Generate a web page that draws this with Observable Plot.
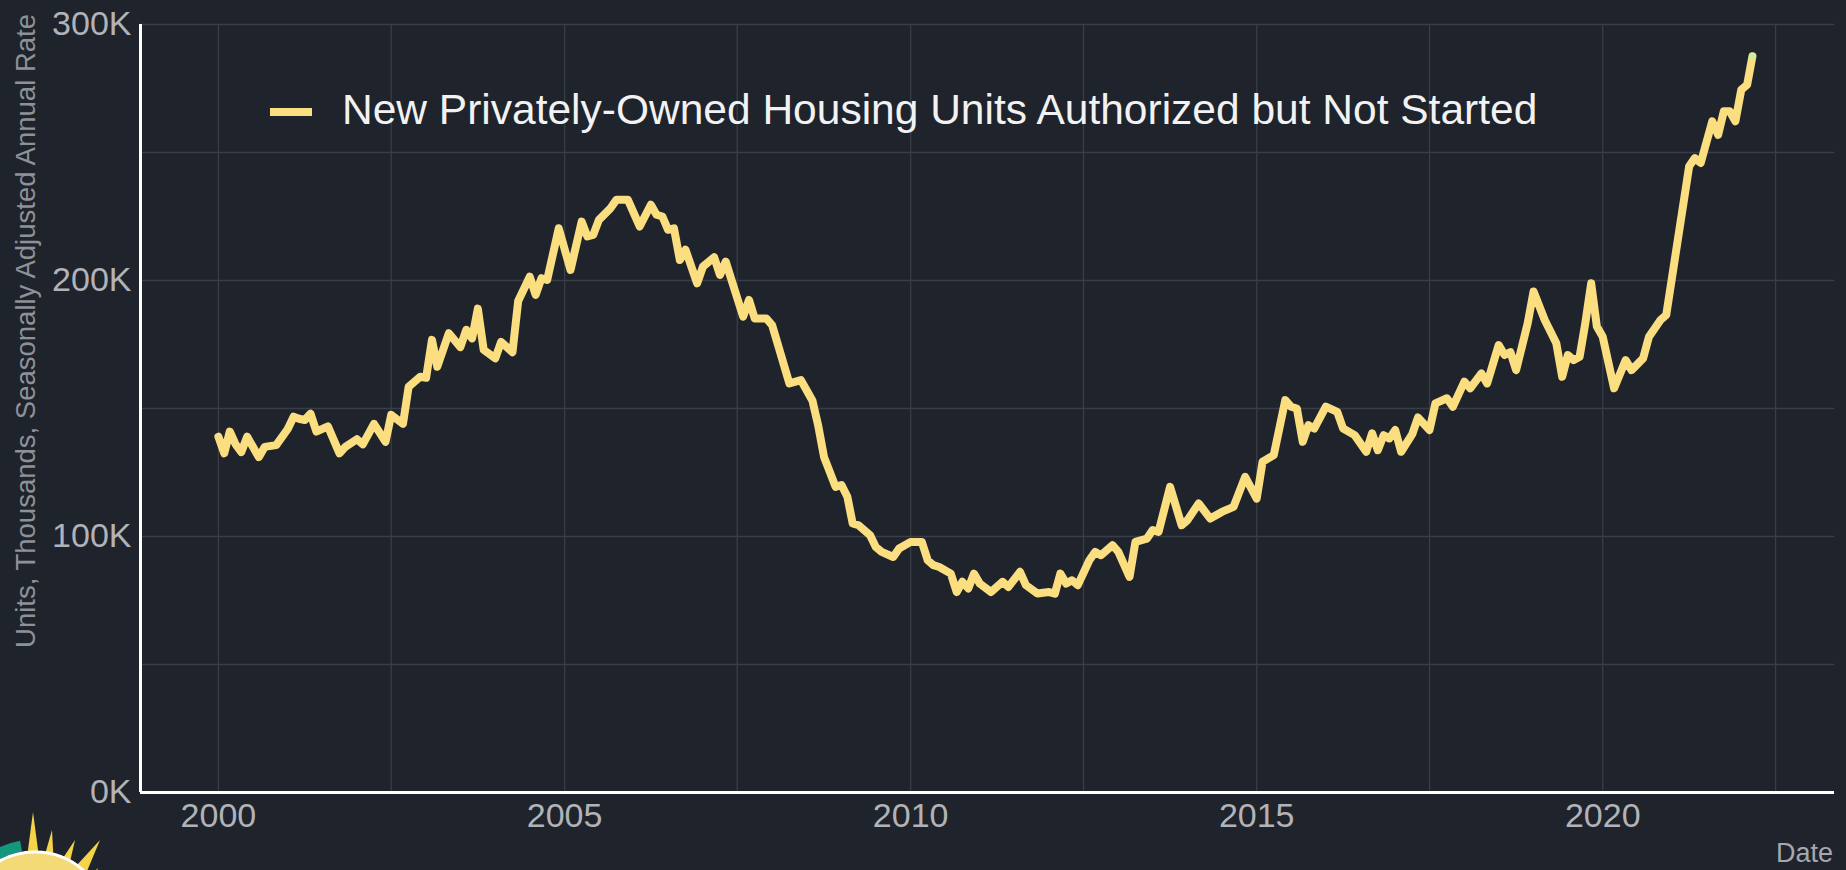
<!DOCTYPE html>
<html>
<head>
<meta charset="utf-8">
<script src="https://cdn.jsdelivr.net/npm/d3@7"></script>
<script src="https://cdn.jsdelivr.net/npm/@observablehq/plot@0.6"></script>
<style>
  html, body { margin: 0; padding: 0; background: #1f232c; }
  #wrap { position: relative; width: 1846px; height: 870px; overflow: hidden; background: #1f232c; font-family: "Liberation Sans", Arial, sans-serif; }
  #chart svg { display: block; }
  .legend { position: absolute; left: 270px; top: 89px; display: flex; align-items: flex-start; }
  .legend .sw { position: absolute; left: 0; top: 19px; width: 42px; height: 8px; background: #fade80; }
  .legend .lt { position: absolute; left: 72px; top: 0; font-size: 42.5px; line-height: 42.5px; color: #f2f2f2; white-space: nowrap; }
  .ytitle { position: absolute; left: 25.5px; top: 331px; transform: translate(-50%, -50%) rotate(-90deg); font-size: 27.5px; line-height: 27.5px; color: #8e9198; white-space: nowrap; }
  .xtitle { position: absolute; right: 13px; top: 840px; font-size: 27px; line-height: 27px; color: #a6a8ae; white-space: nowrap; }
  .logo { position: absolute; left: 0; top: 780px; }
</style>
</head>
<body>
<div id="wrap">
  <div id="chart"></div>
  <div class="legend"><div class="sw"></div><div class="lt" id="legendText"></div></div>
  <div class="ytitle" id="yTitle"></div>
  <div class="xtitle" id="xTitle"></div>
  <svg class="logo" width="160" height="90" viewBox="0 0 160 90">
    <path d="M -40.2 117.6 A 80 80 0 0 1 21.1 66.2" fill="none" stroke="#14977f" stroke-width="11"/>
    <polygon points="26,85 40,85 33,32" fill="#f5d547"/>
    <polygon points="42,85 54,88 52,50" fill="#f5d547"/>
    <polygon points="55,90 67,95 75,60" fill="#f5d547"/>
    <polygon points="65,98 80,108 100,60" fill="#f5d547"/>
    <polygon points="75,110 85,122 98,88" fill="#f5d547"/>
    <circle cx="35" cy="145" r="73" fill="#f3da76" stroke="#ffffff" stroke-width="3"/>
  </svg>
</div>
<script>
// ---- Data ----
const seriesName = "New Privately-Owned Housing Units Authorized but Not Started";
const yAxisTitle = "Units, Thousands, Seasonally Adjusted Annual Rate";
const xAxisTitle = "Date";

const dates = [
  "2000-01","2000-02","2000-03","2000-04","2000-05","2000-06","2000-08","2000-09","2000-11",
  "2001-01","2001-02","2001-03","2001-04","2001-05","2001-06","2001-08","2001-10","2001-11",
  "2002-01","2002-02","2002-04","2002-06","2002-07","2002-09","2002-10","2002-12",
  "2003-01","2003-02","2003-03","2003-05","2003-07","2003-08","2003-09","2003-10","2003-11",
  "2004-01","2004-02","2004-04","2004-05","2004-07","2004-08","2004-09","2004-10","2004-12",
  "2005-02","2005-04","2005-05","2005-06","2005-07","2005-09","2005-10","2005-12",
  "2006-02","2006-04","2006-05","2006-06","2006-07","2006-08","2006-09","2006-10","2006-12",
  "2007-01","2007-03","2007-04","2007-05","2007-08","2007-09","2007-10","2007-12",
  "2008-01","2008-04","2008-06","2008-08","2008-09","2008-10","2008-12",
  "2009-01","2009-02","2009-03","2009-04","2009-06","2009-07","2009-08","2009-10","2009-11",
  "2010-01","2010-03","2010-04","2010-05","2010-06","2010-08","2010-09","2010-10","2010-11","2010-12",
  "2011-01","2011-03","2011-05","2011-06","2011-08","2011-09","2011-11",
  "2012-01","2012-02","2012-03","2012-04","2012-05","2012-06","2012-08","2012-09","2012-10","2012-12",
  "2013-01","2013-03","2013-04","2013-06","2013-07","2013-08","2013-10","2013-12",
  "2014-01","2014-03","2014-05","2014-07","2014-09","2014-11",
  "2015-01","2015-02","2015-04","2015-06","2015-07","2015-08","2015-09","2015-10","2015-11",
  "2016-01","2016-03","2016-04","2016-06","2016-08","2016-09","2016-10","2016-11","2016-12",
  "2017-01","2017-02","2017-04","2017-05","2017-07","2017-08","2017-10","2017-11",
  "2018-01","2018-02","2018-04","2018-05","2018-07","2018-08","2018-09","2018-10","2018-12",
  "2019-01","2019-03","2019-05","2019-06","2019-07","2019-08","2019-09","2019-10","2019-11","2019-12",
  "2020-01","2020-03","2020-05","2020-06","2020-08","2020-09","2020-11","2020-12",
  "2021-04","2021-05","2021-06","2021-08","2021-09","2021-10","2021-11","2021-12",
  "2022-01","2022-02","2022-03"
];

const values = [
  139,132.5,141,136,133,139,131,135,135.7,
  142,146.8,146,145.5,148,141,143,132.5,135,
  138,136,144,137,147.5,144,158.5,162.4,
  162,176.8,166.3,179.4,174,180.7,177.4,189,172.9,
  169.6,176,172,192,201.5,194.4,200.9,200.2,220.4,
  204.1,223,217.2,217.8,223.7,228.3,231.5,231.5,
  221.1,229.6,225.7,225,219.8,220.4,208,212,198.9,
  205.4,209.1,202.2,207.4,185.9,192.4,185.2,185.2,
  182.6,159.8,161.1,153,143,131,119.4,
  120.1,115.5,105.1,104.4,100.5,95.9,94,92,95.3,
  97.9,97.9,90.7,88.8,88.1,85.5,78.3,82.3,79.7,85.5,
  81.6,78.3,82.3,80.3,86.2,81,77.7,
  78.3,77.7,85.5,81.6,82.9,81,90.7,94,92.7,96.6,
  94,84.2,97.9,99.2,102.5,101.8,119.4,104.4,
  106.4,112.9,107,109.6,111.6,123.3,
  114.8,129.2,131.8,153.3,150.7,150,137,143.5,142.2,
  150.7,148.7,142.2,139.6,133.1,140.3,133.7,139.6,138.3,
  141.6,133.1,140,146.5,141.6,152,154,150.7,
  160.5,157.9,163.7,159.8,174.8,170.9,172,165,183.3,
  195.7,184.6,175.5,162.4,170.9,168.9,170.2,183.3,198.9,182,
  178,157.9,168.9,165,169.6,178,184.6,186.5,
  244.6,247.8,245.9,262.2,256.9,266.1,266.1,262.2,
  274.5,276.5,287.6
];

const xTickYears = [2000, 2005, 2010, 2015, 2020];
const yTickValues = [0, 100, 200, 300];
const yTickLabels = ["0K", "100K", "200K", "300K"];

// ---- Build table ----
const parse = d3.utcParse("%Y-%m");
const data = dates.map((d, i) => ({date: parse(d), value: values[i]}));
const last = [data[data.length - 1]];

const xDomain = [new Date(Date.UTC(1998, 10, 16)), new Date(Date.UTC(2023, 4, 8))];
const xTicks = xTickYears.map(y => new Date(Date.UTC(y, 0, 1)));
const xGrid = d3.range(2000, 2023, 2.5).map(y => {
  const yr = Math.floor(y); const mo = Math.round((y - yr) * 12);
  return new Date(Date.UTC(yr, mo, 1));
});
const yGrid = d3.range(0, 301, 50);

document.getElementById("legendText").textContent = seriesName;
document.getElementById("yTitle").textContent = yAxisTitle;
document.getElementById("xTitle").textContent = xAxisTitle;

const gridColor = "#393d47";

const chart = Plot.plot({
  width: 1846,
  height: 870,
  marginLeft: 140,
  marginRight: 12,
  marginTop: 24,
  marginBottom: 78,
  style: {
    background: "#1f232c",
    color: "#b2b3b8",
    fontFamily: "'Liberation Sans', Arial, sans-serif",
    fontSize: "34px"
  },
  x: {type: "utc", domain: xDomain},
  y: {domain: [0, 300]},
  marks: [
    Plot.gridX(xGrid, {stroke: gridColor, strokeOpacity: 1, strokeWidth: 1.3}),
    Plot.gridY(yGrid, {stroke: gridColor, strokeOpacity: 1, strokeWidth: 1.3}),
    Plot.axisX(xTicks, {tickSize: 0, tickPadding: 10, tickFormat: d3.utcFormat("%Y"), label: null, fill: "#b2b3b8"}),
    Plot.axisY(yTickValues, {tickSize: 0, tickPadding: 9, tickFormat: (d, i) => yTickLabels[yTickValues.indexOf(d)], label: null, fill: "#b2b3b8"}),
    Plot.ruleY([0], {stroke: "#ffffff", strokeWidth: 3}),
    Plot.ruleX([xDomain[0]], {stroke: "#ffffff", strokeWidth: 3}),
    Plot.line(data, {x: "date", y: "value", stroke: "#fade80", strokeWidth: 8, strokeLinejoin: "round", strokeLinecap: "round"}),
    Plot.dot(last, {x: "date", y: "value", r: 3.5, fill: "#cdeea0", stroke: "none"})
  ]
});
document.getElementById("chart").appendChild(chart);
</script>
</body>
</html>
